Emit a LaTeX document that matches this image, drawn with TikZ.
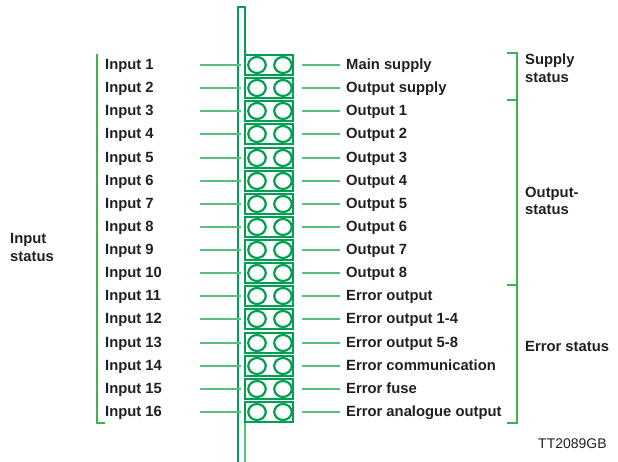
\documentclass[tikz,border=0pt]{standalone}
\usepackage{fontspec}
\setmainfont{Liberation Sans}
\usetikzlibrary{shapes.geometric}
\definecolor{gdark}{RGB}{0,160,80}
\definecolor{glight}{RGB}{90,190,125}
\definecolor{gbrack}{RGB}{60,180,80}
\definecolor{txt}{RGB}{35,31,32}
\begin{document}
\begin{tikzpicture}[x=1pt,y=-1pt,
  lab/.style={font=\fontsize{14.8}{17.5}\selectfont\bfseries, text=txt, inner sep=0pt, anchor=base west},
  grp/.style={lab, align=left},
  box/.style={draw=gdark, line width=1.7pt, minimum width=48pt, minimum height=20pt, inner sep=0pt},
  hole/.style={ellipse, draw=gdark, line width=2.2pt, minimum width=17.5pt, minimum height=16pt, inner sep=0pt},
  wire/.style={draw=glight, line width=2pt},
  brack/.style={draw=gbrack, line width=2pt}]
\useasboundingbox (0,0) rectangle (618,462);
% rail
\draw[gdark, line width=2pt] (238,462) -- (238,7) -- (245,7) -- (245,55);
\draw[glight, line width=2pt] (245,422) -- (245,462);
% rows
\foreach \i in {1,...,16}{
  \pgfmathsetmacro{\y}{round(65+(\i-1)*23.13)}
  \node[box] (b\i) at (269,\y) {};
  \node[hole] (h\i a) at (257,\y) {};
  \node[hole] (h\i b) at (283,\y) {};
  \coordinate (la\i) at (200,\y);
  \coordinate (lb\i) at (241,\y);
  \coordinate (ra\i) at (302,\y);
  \coordinate (rb\i) at (340,\y);
  \draw[wire] (la\i) -- (lb\i);
  \draw[wire] (ra\i) -- (rb\i);
  \node[lab] (in\i) at (105,\y+4.8) {Input \i};
}
\foreach \i/\t in {1/Main supply,2/Output supply,3/Output 1,4/Output 2,5/Output 3,6/Output 4,7/Output 5,8/Output 6,9/Output 7,10/Output 8,11/Error output,12/Error output 1-4,13/Error output 5-8,14/Error communication,15/Error fuse,16/Error analogue output}{
  \pgfmathsetmacro{\y}{round(65+(\i-1)*23.13)}
  \node[lab] (out\i) at (346,\y+4.8) {\t};
}
% input bracket
\draw[brack] (97,54) -- (97,423) -- (104.5,423);
\node[grp] (instat) at (10,261.5) {Input\\status};
% right brackets
\draw[brack] (507,53) -- (517,53) -- (517,423) -- (507,423);
\draw[brack] (507,100) -- (517,100);
\draw[brack] (507,285) -- (517,285);
\node[grp] (supstat) at (525,82.5) {Supply\\status};
\node[grp] (outstat) at (525,215) {Output-\\status};
\node[lab] (errstat) at (525,351.5) {Error status};
\node[inner sep=0pt, anchor=base west, font=\fontsize{14}{16}\selectfont, text=txt] (code) at (538,448.3) {TT2089GB};
\end{tikzpicture}
\end{document}
